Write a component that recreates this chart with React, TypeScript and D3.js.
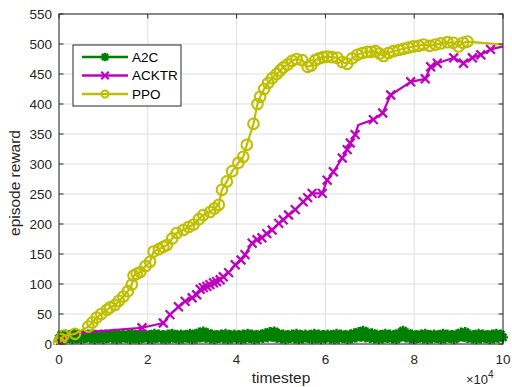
import React from "react";
import * as d3 from "d3";

const xTicks = [0, 2, 4, 6, 8, 10];
const yTicks = [0, 50, 100, 150, 200, 250, 300, 350, 400, 450, 500, 550];

const a2cValues = [
  9, 15, 8, 16, 10, 15, 8, 17, 9, 16, 8, 15, 10, 16, 9, 17, 8, 15, 9, 16,
  8, 16, 10, 15, 9, 17, 8, 16, 9, 15, 10, 16, 8, 17, 9, 15, 8, 16, 10, 16,
  9, 15, 8, 17, 10, 16, 9, 15, 8, 16, 9, 17, 10, 15, 8, 16, 9, 15, 10, 17,
  8, 16, 9, 19, 11, 21, 10, 18, 9, 16, 8, 15, 10, 16, 9, 17, 8, 15, 9, 16,
  10, 15, 8, 16, 9, 17, 10, 16, 8, 15, 9, 16, 10, 18, 11, 20, 12, 21, 10, 17,
  9, 16, 8, 15, 10, 16, 9, 17, 8, 15, 9, 16, 10, 15, 8, 17, 9, 16, 8, 15,
  10, 16, 9, 15, 8, 17, 9, 16, 10, 15, 8, 16, 9, 18, 11, 20, 12, 22, 11, 19,
  10, 18, 9, 16, 8, 15, 9, 17, 10, 16, 9, 15, 8, 18, 12, 22, 11, 18, 9, 16,
  8, 15, 10, 16, 9, 17, 8, 15, 9, 16, 10, 15, 8, 17, 9, 16, 10, 15, 8, 16,
  11, 19, 12, 20, 10, 16, 9, 15, 8, 17, 9, 16, 10, 15, 8, 16, 9, 17, 10, 16,
  11,
];
const a2cSteps = a2cValues.map((_, i) => i * 0.05);

const ppoSteps = [0, 0.05, 0.1, 0.36, 0.66, 0.75, 0.85, 0.95, 1.08, 1.15, 1.26, 1.35, 1.45, 1.55, 1.64, 1.68, 1.75, 1.83, 1.95, 2.05, 2.13, 2.25, 2.35, 2.43, 2.55, 2.65, 2.8, 2.92, 3.03, 3.15, 3.25, 3.4, 3.5, 3.6, 3.67, 3.78, 3.9, 4.04, 4.15, 4.23, 4.38, 4.47, 4.53, 4.62, 4.71, 4.8, 4.9, 4.98, 5.05, 5.15, 5.25, 5.35, 5.48, 5.6, 5.68, 5.77, 5.85, 5.95, 6.04, 6.15, 6.27, 6.38, 6.49, 6.6, 6.72, 6.83, 6.94, 7.03, 7.13, 7.22, 7.31, 7.42, 7.53, 7.65, 7.76, 7.87, 7.98, 8.1, 8.21, 8.35, 8.48, 8.6, 8.75, 8.88, 9.0, 9.1, 9.2, 10];
const ppoValues = [2, 8, 14, 17, 29, 36, 44, 50, 57, 61, 65, 72, 79, 88, 99, 114, 117, 120, 130, 137, 154, 158, 162, 165, 176, 185, 190, 195, 199, 208, 215, 220, 226, 232, 257, 271, 288, 302, 312, 332, 367, 400, 412, 425, 435, 443, 450, 456, 461, 466, 472, 475, 473, 462, 464, 473, 476, 478, 479, 478, 477, 470, 467, 476, 482, 485, 487, 487, 488, 484, 480, 485, 488, 490, 492, 494, 496, 497, 499, 497, 499, 501, 503, 502, 496, 502, 504, 499];
const ppoNoMarker = [ppoSteps.length - 1];

const acktrSteps = [0, 0.05, 0.36, 1.0, 1.5, 1.87, 2.35, 2.5, 2.69, 2.84, 3.0, 3.1, 3.18, 3.25, 3.33, 3.4, 3.48, 3.55, 3.63, 3.7, 3.82, 3.97, 4.1, 4.19, 4.35, 4.46, 4.57, 4.68, 4.8, 4.95, 5.05, 5.17, 5.32, 5.5, 5.6, 5.7, 5.93, 6.04, 6.18, 6.38, 6.49, 6.56, 6.67, 6.74, 7.08, 7.29, 7.47, 7.92, 8.25, 8.37, 8.52, 8.89, 9.11, 9.31, 9.5, 9.72, 10];
const acktrValues = [2, 6, 17, 22, 25, 27, 35, 49, 62, 71, 77, 82, 91, 94, 96, 99, 102, 104, 107, 112, 119, 132, 140, 149, 168, 174, 177, 184, 190, 201, 207, 215, 224, 237, 244, 251, 251, 273, 287, 310, 324, 335, 349, 365, 374, 385, 415, 437, 442, 462, 468, 477, 468, 477, 482, 491, 496];
const acktrNoMarker = [2, 3, 4, 43, 56];

const seriesNames = ["A2C", "ACKTR", "PPO"];
const seriesColors = ["#008000", "#BF00BF", "#BFBF00"];

const W = 512, H = 387;
const L = 59, R = 503, T = 14, B = 344;
const FONT = "'Liberation Sans', Arial, Helvetica, sans-serif";
const AX = "#262626";

function Marker({ kind, x, y, color, size = 1 }: { kind: string; x: number; y: number; color: string; size?: number }) {
  if (kind === "o") return <circle cx={x} cy={y} r={5.3 * size} fill="none" stroke={color} strokeWidth={2.1} />;
  if (kind === "x") {
    const s = 4.4 * size;
    return <path d={`M${x - s},${y - s}L${x + s},${y + s}M${x - s},${y + s}L${x + s},${y - s}`} stroke={color} strokeWidth={2.2} />;
  }
  const s = 5 * size, d = 3.6 * size;
  return <path d={`M${x - s},${y}L${x + s},${y}M${x},${y - s}L${x},${y + s}M${x - d},${y - d}L${x + d},${y + d}M${x - d},${y + d}L${x + d},${y - d}`} stroke={color} strokeWidth={2.4} />;
}

export default function App() {
  const x = d3.scaleLinear().domain([0, 10]).range([L, R]);
  const y = d3.scaleLinear().domain([0, 550]).range([B, T]);
  const line = d3.line<[number, number]>().x((d) => x(d[0])).y((d) => y(d[1]));
  const series = [
    { steps: a2cSteps, values: a2cValues, marker: "*", skip: [] as number[], lw: 3.2 },
    { steps: acktrSteps, values: acktrValues, marker: "x", skip: acktrNoMarker, lw: 2.2 },
    { steps: ppoSteps, values: ppoValues, marker: "o", skip: ppoNoMarker, lw: 2.2 },
  ];
  return (
    <svg width={W} height={H} style={{ position: "absolute", left: 0, top: 0, background: "#fff" }} fontFamily={FONT}>
      <rect x={0} y={0} width={W} height={H} fill="#fff" />
      {xTicks.map((t) => (
        <line key={"gx" + t} x1={x(t)} x2={x(t)} y1={T} y2={B} stroke="#dedede" strokeWidth={1} />
      ))}
      {yTicks.map((t) => (
        <line key={"gy" + t} x1={L} x2={R} y1={y(t)} y2={y(t)} stroke="#dedede" strokeWidth={1} />
      ))}
      <defs>
        <clipPath id="plotclip">
          <rect x={L - 6} y={T} width={R - L + 12} height={B - T + 1} />
        </clipPath>
      </defs>
      <g clipPath="url(#plotclip)">
        {series.map((s, si) => {
          const pts = s.steps.map((st, i) => [st, s.values[i]] as [number, number]);
          return (
            <g key={si}>
              <path d={line(pts) || ""} fill="none" stroke={seriesColors[si]} strokeWidth={s.lw} strokeLinejoin="round" />
              {pts.map((p, i) =>
                s.skip.includes(i) ? null : (
                  <Marker key={i} kind={s.marker} x={x(p[0])} y={y(p[1])} color={seriesColors[si]} />
                )
              )}
            </g>
          );
        })}
      </g>
      <rect x={L} y={T} width={R - L} height={B - T} fill="none" stroke={AX} strokeWidth={1} />
      {xTicks.map((t) => (
        <g key={"tx" + t}>
          <line x1={x(t)} x2={x(t)} y1={B} y2={B - 4.5} stroke={AX} />
          <line x1={x(t)} x2={x(t)} y1={T} y2={T + 4.5} stroke={AX} />
          <text x={x(t)} y={364} textAnchor="middle" fontSize={13.5} fill={AX}>{t}</text>
        </g>
      ))}
      {yTicks.map((t) => (
        <g key={"ty" + t}>
          <line x1={L} x2={L + 4.5} y1={y(t)} y2={y(t)} stroke={AX} />
          <line x1={R} x2={R - 4.5} y1={y(t)} y2={y(t)} stroke={AX} />
          <text x={52} y={y(t)} textAnchor="end" dominantBaseline="central" fontSize={13.5} fill={AX}>{t}</text>
        </g>
      ))}
      <text x={281} y={383} textAnchor="middle" fontSize={15.5} fill={AX}>timestep</text>
      <text transform="translate(20,183) rotate(-90)" textAnchor="middle" fontSize={15.5} fill={AX}>episode reward</text>
      <text x={466} y={384} fontSize={13} fill={AX}>
        ×10<tspan dy={-6} fontSize={10}>4</tspan>
      </text>
      <rect x={73} y={45} width={108} height={61} fill="#fff" stroke={AX} strokeWidth={1} />
      {seriesNames.map((n, i) => {
        const ly = 57 + i * 18.5;
        const kind = ["*", "x", "o"][i];
        return (
          <g key={n}>
            <line x1={82} x2={128} y1={ly} y2={ly} stroke={seriesColors[i]} strokeWidth={2.5} />
            {kind === "o" ? (
              <circle cx={105} cy={ly} r={3.5} fill="none" stroke={seriesColors[i]} strokeWidth={2} />
            ) : (
              <Marker kind={kind} x={105} y={ly} color={seriesColors[i]} size={0.85} />
            )}
            <text x={132} y={ly} dominantBaseline="central" fontSize={13.5} fill="#000">{n}</text>
          </g>
        );
      })}
    </svg>
  );
}
